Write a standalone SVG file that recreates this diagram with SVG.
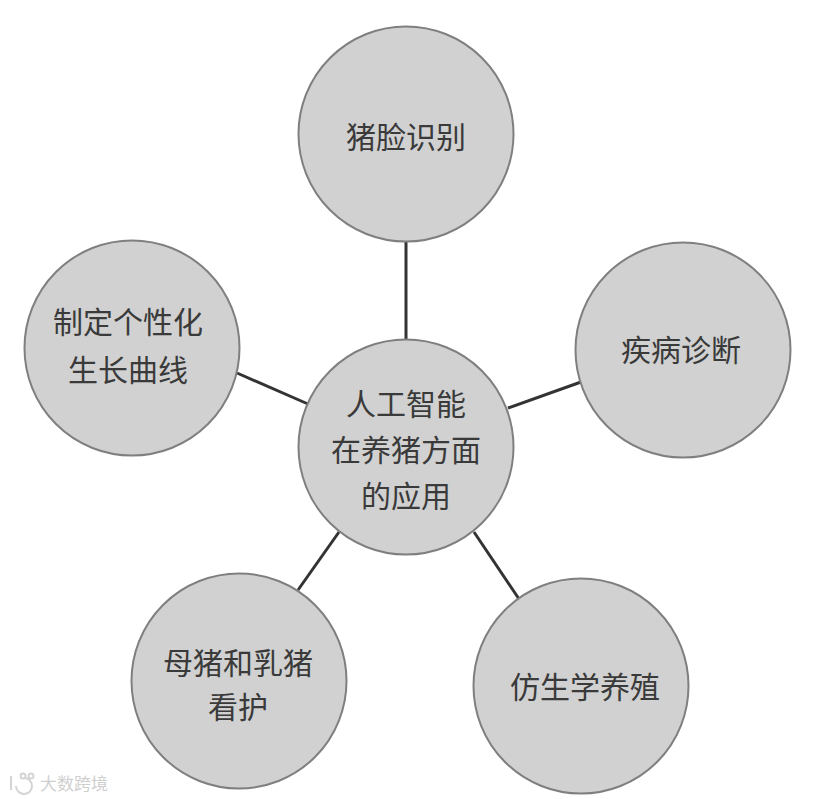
<svg xmlns="http://www.w3.org/2000/svg" width="825" height="799" viewBox="0 0 825 799">
<style>
.n{fill:#d1d1d1;stroke:#7f7f7f;stroke-width:2}
.l{stroke:#333;stroke-width:3;fill:none}
text{font-family:"Noto Sans CJK SC",sans-serif;font-size:30px;fill:#3a3a3a;text-anchor:middle}
.w{fill:none;stroke:#d4d4d4;stroke-width:2}
</style>
<rect width="825" height="799" fill="#fff"/>
<g id="connectors">
<line class="l" x1="406" y1="241" x2="406" y2="341"/>
<line class="l" x1="508" y1="408" x2="581" y2="382"/>
<line class="l" x1="474" y1="532" x2="519" y2="599"/>
<line class="l" x1="339" y1="532" x2="298" y2="590"/>
<line class="l" x1="308" y1="404" x2="237" y2="373"/>
</g>
<g id="center"><circle class="n" cx="406" cy="447" r="107.500"/><text x="406" y="415">人工智能</text><text x="406" y="461">在养猪方面</text><text x="406" y="507">的应用</text></g>
<g id="top"><circle class="n" cx="406" cy="134" r="107.500"/><text x="406" y="148">猪脸识别</text></g>
<g id="right"><circle class="n" cx="683" cy="350" r="107.500"/><text x="681" y="361">疾病诊断</text></g>
<g id="lowerright"><circle class="n" cx="581" cy="686" r="107.500"/><text x="585" y="698">仿生学养殖</text></g>
<g id="lowerleft"><circle class="n" cx="239" cy="681" r="107.500"/><text x="238" y="674">母猪和乳猪</text><text x="238" y="718">看护</text></g>
<g id="left"><circle class="n" cx="132" cy="348" r="107.500"/><text x="128" y="333">制定个性化</text><text x="128" y="381">生长曲线</text></g>
<g id="watermark">
<path class="w" d="M11 776V790M25 778A8 8 0 1 1 16 786"/>
<circle class="w" cx="23" cy="776" r="2.500"/><circle class="w" cx="31" cy="776" r="2.500"/>
<text x="74" y="790" style="font-size:17px;fill:#cfcfcf">大数跨境</text>
</g>
</svg>
